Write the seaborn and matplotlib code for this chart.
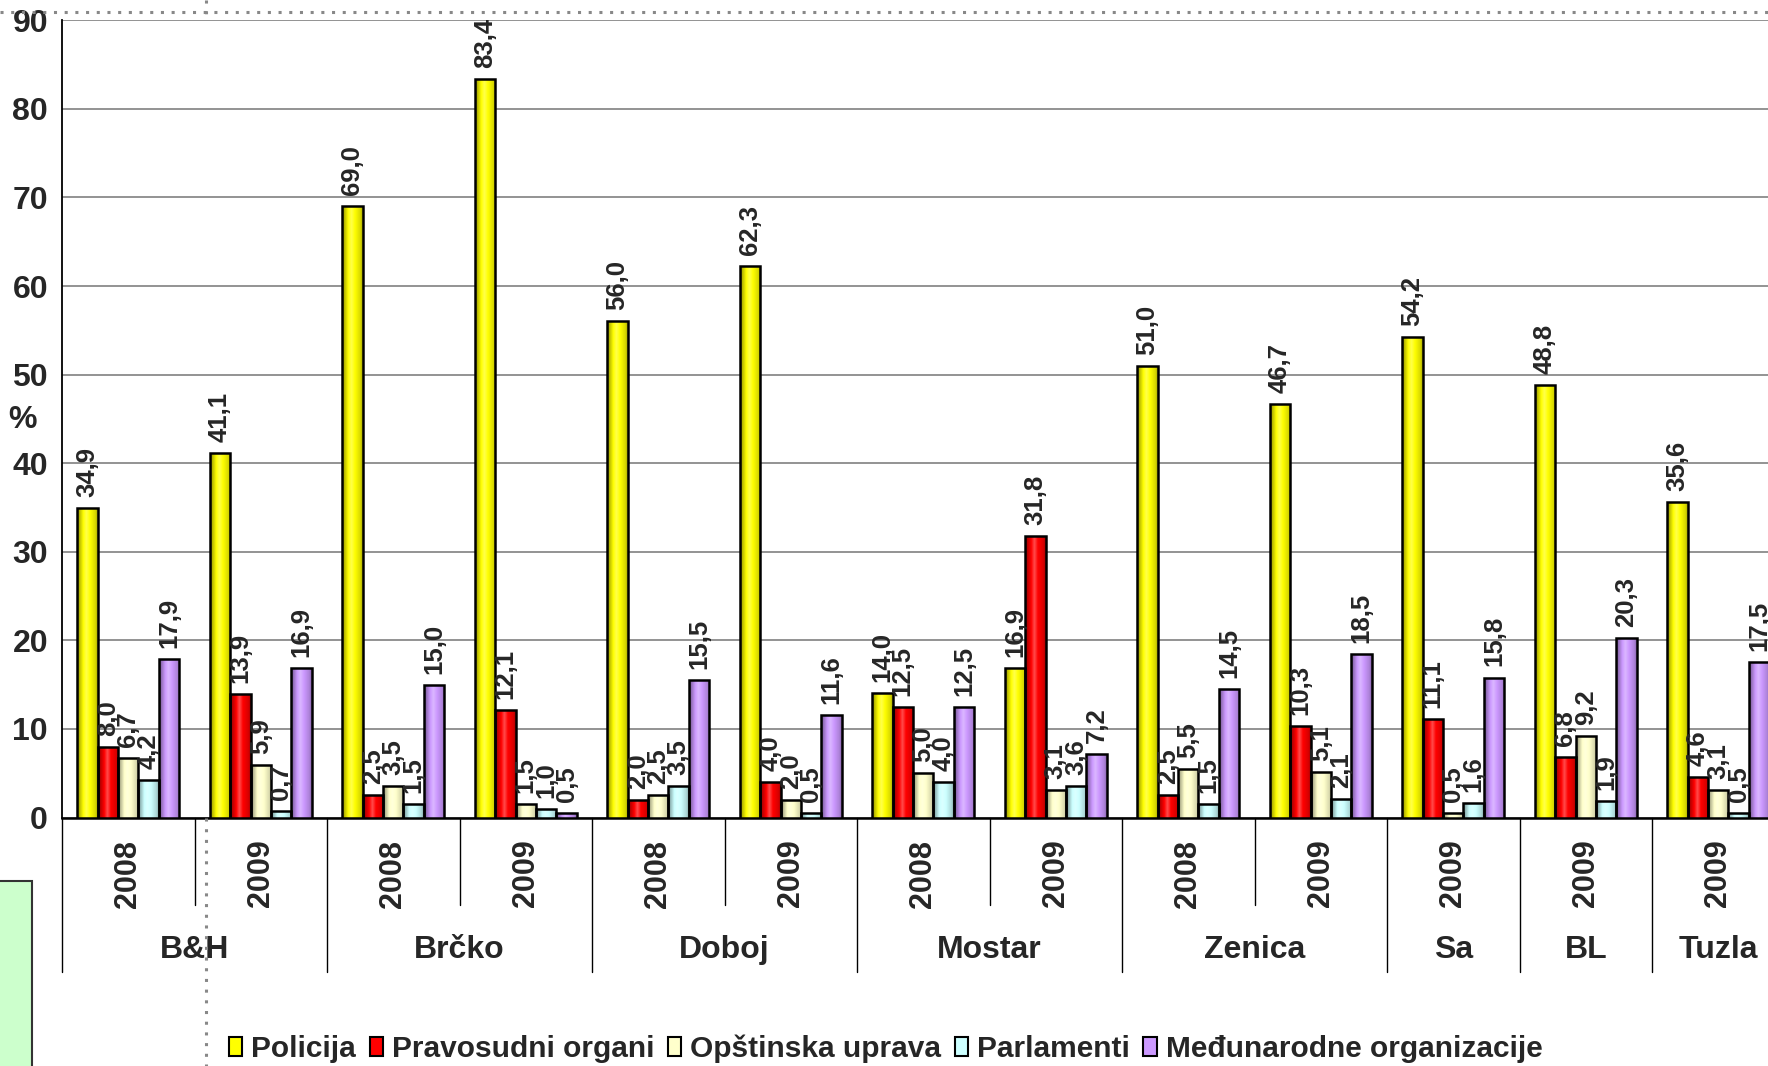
import numpy as np
import pandas as pd
import matplotlib
matplotlib.use("Agg")
import matplotlib.pyplot as plt
from matplotlib.patches import Rectangle
from matplotlib.lines import Line2D
from matplotlib.colors import to_rgb
from matplotlib import transforms
import seaborn as sns

# Podaci
regije = ["B&H", "B&H", "Brčko", "Brčko", "Doboj", "Doboj", "Mostar", "Mostar",
          "Zenica", "Zenica", "Sa", "BL", "Tuzla"]
godine = ["2008", "2009", "2008", "2009", "2008", "2009", "2008", "2009",
          "2008", "2009", "2009", "2009", "2009"]
institucije = ["Policija", "Pravosudni organi", "Opštinska uprava", "Parlamenti",
               "Međunarodne organizacije"]
policija = [34.9, 41.1, 69.0, 83.4, 56.0, 62.3, 14.0, 16.9, 51.0, 46.7, 54.2, 48.8, 35.6]
pravosudni = [8.0, 13.9, 2.5, 12.1, 2.0, 4.0, 12.5, 31.8, 2.5, 10.3, 11.1, 6.8, 4.6]
opstinska = [6.7, 5.9, 3.5, 1.5, 2.5, 2.0, 5.0, 3.1, 5.5, 5.1, 0.5, 9.2, 3.1]
parlamenti = [4.2, 0.7, 1.5, 1.0, 3.5, 0.5, 4.0, 3.6, 1.5, 2.1, 1.6, 1.9, 0.5]
medjunarodne = [17.9, 16.9, 15.0, 0.5, 15.5, 11.6, 12.5, 7.2, 14.5, 18.5, 15.8, 20.3, 17.5]
boje = ["#FFFF00", "#FF0000", "#FFFFCC", "#CCFFFF", "#CC99FF"]

serije = [policija, pravosudni, opstinska, parlamenti, medjunarodne]
kategorije = [f"{r} {g}" for r, g in zip(regije, godine)]
df = pd.DataFrame({
    "kat": np.tile(kategorije, len(institucije)),
    "inst": np.repeat(institucije, len(kategorije)),
    "val": np.concatenate(serije),
})

sns.set_style("white")
plt.rcParams["font.family"] = ["Liberation Sans Narrow", "Liberation Sans", "DejaVu Sans"]
UZAK = ["Liberation Sans Narrow", "Liberation Sans", "DejaVu Sans"]
SIROK = ["Liberation Sans", "DejaVu Sans"]


def gradijent(boja, n=64):
    # Excel-ov "cilindar": tamnije ivice, svjetlija sredina
    rgb = np.array(to_rgb(boja))
    t = np.linspace(0, 1, n)
    k = np.interp(t, [0, 0.1, 0.3, 0.45, 0.62, 0.88, 1.0],
                  [-0.5, -0.3, 0.0, 0.3, 0.0, -0.15, -0.35])
    out = np.where(k[:, None] < 0, rgb * (1 + k[:, None]), rgb + (1 - rgb) * k[:, None])
    return out[None, :, :]


fig = plt.figure(figsize=(17.68, 10.66), dpi=100)
ax = fig.add_axes([62 / 1768, 1 - 817.5 / 1066, 1722.5 / 1768, 797.2 / 1066])

sns.barplot(data=df, x="kat", y="val", hue="inst", order=kategorije,
            hue_order=institucije, palette=boje, width=0.77, saturation=1,
            edgecolor="black", linewidth=1.8, legend=False, ax=ax, zorder=3)

for cont, boja in zip(ax.containers, boje):
    slika = gradijent(boja)
    for b in cont:
        x, w, h = b.get_x(), b.get_width(), b.get_height()
        im = ax.imshow(slika, extent=[x, x + w, 0, h], aspect="auto",
                       interpolation="bilinear", zorder=2.9)
        im.set_clip_path(b)
        b.set_facecolor("none")
    vals = [b.get_height() for b in cont]
    ax.bar_label(cont, labels=[f"{v:.1f}".replace(".", ",") for v in vals],
                 rotation=90, padding=8, fontsize=18.5, fontweight="bold",
                 family=SIROK, zorder=4)

ax.set_xlim(-0.5, len(kategorije) - 0.5)
ax.set_ylim(0, 90)
ax.set_aspect("auto")
ax.set_yticks(range(0, 91, 10))
ax.grid(axis="y", color="#808080", linewidth=1.2, zorder=0)
ax.grid(axis="x", visible=False)
for s in ["top", "right"]:
    ax.spines[s].set_visible(False)
ax.spines["left"].set_color("black")
ax.spines["left"].set_linewidth(1.3)
ax.spines["bottom"].set_color("black")
ax.spines["bottom"].set_linewidth(1.8)
ax.tick_params(axis="y", direction="out", length=6, width=1.2, color="black", pad=4)
for t in ax.get_yticklabels():
    t.set_fontsize(23)
    t.set_fontweight("bold")
    t.set_family(UZAK)

ax.set_xticks(range(len(kategorije)))
ax.set_xticklabels(godine, rotation=90, fontsize=22, fontweight="bold", family=SIROK)
ax.tick_params(axis="x", length=0, pad=16)
ax.set_xlabel("")
ax.set_ylabel("%", rotation=0, fontsize=23, fontweight="bold", family=UZAK,
              va="center", ha="center")
ax.yaxis.set_label_coords(-0.023, 0.4986)

# Razdjelnici i nazivi grupa ispod ose
trans = transforms.blended_transform_factory(ax.transData, ax.transAxes)
for i in range(len(kategorije) + 1):
    granica = i == 0 or i == len(kategorije) or regije[i - 1] != regije[i]
    dno = -0.194 if granica else -0.110
    ax.add_line(Line2D([i - 0.5, i - 0.5], [0, dno], transform=trans, color="black",
                       linewidth=1.0, clip_on=False))

start = 0
for i in range(1, len(regije) + 1):
    if i == len(regije) or regije[i] != regije[start]:
        sredina = (start + i - 1) / 2
        ax.text(sredina, -0.166, regije[start], transform=trans, ha="center", va="center",
                fontsize=23, fontweight="bold", family=UZAK)
        start = i

# Legenda
rucke = [Rectangle((0, 0), 1, 1, facecolor=c, edgecolor="black", linewidth=1.5) for c in boje]
fig.legend(rucke, institucije, loc="center", bbox_to_anchor=(0.501, 0.016), ncol=5,
           frameon=False, handlelength=0.45, handleheight=0.6, handletextpad=0.3,
           columnspacing=0.45, prop={"family": UZAK, "weight": "bold", "size": 21.5})

# Ostaci sa slajda
fig.add_artist(Line2D([0, 1], [1 - 12 / 1066, 1 - 12 / 1066], transform=fig.transFigure,
                      color="#888888", linestyle=(0, (1, 2.5)), linewidth=2.2))
for y0, y1 in [(1, 1 - 20 / 1066), (1 - 818 / 1066, 0)]:
    fig.add_artist(Line2D([206 / 1768, 206 / 1768], [y0, y1], transform=fig.transFigure,
                          color="#888888", linestyle=(0, (1, 2.5)), linewidth=2.2))
fig.add_artist(Rectangle((-0.01, -0.01), 32 / 1768 + 0.01, 196 / 1066, transform=fig.transFigure,
                         facecolor="#CCFFCC", edgecolor="#333333", linewidth=1.5))

fig.savefig("out.png", dpi=100)
